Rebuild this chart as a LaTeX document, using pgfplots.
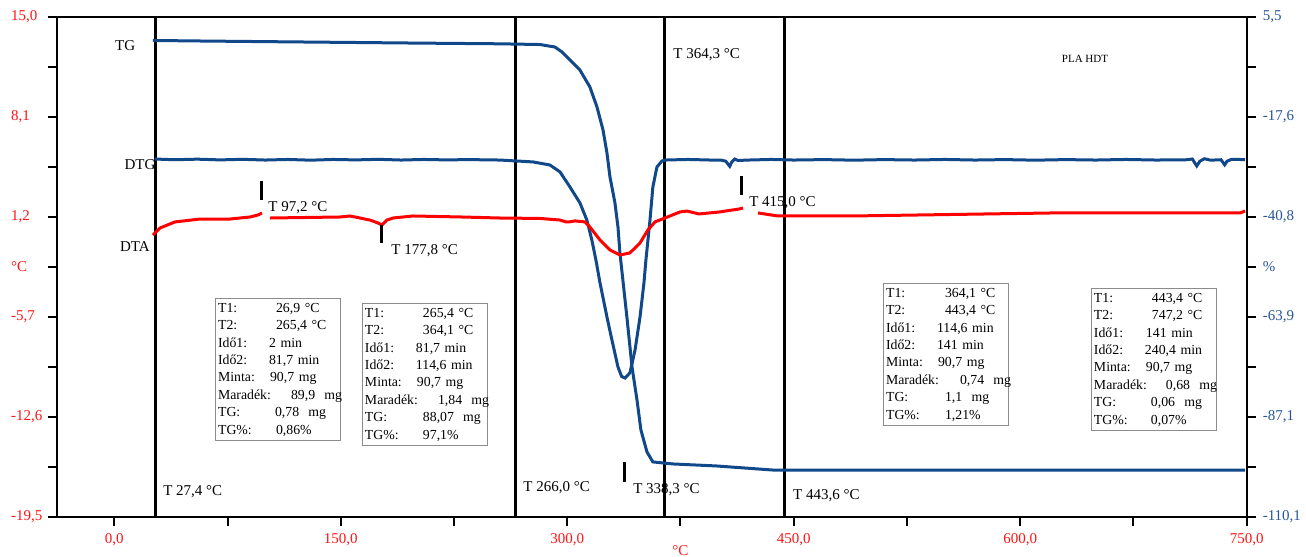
\documentclass[border=0pt]{standalone}
\usepackage{pgfplots}
\pgfplotsset{compat=1.18}
\usepackage{fontspec}
\setmainfont{Liberation Serif}
\definecolor{cblue}{RGB}{16,72,138}
\definecolor{lblue}{RGB}{40,85,150}
\definecolor{tred}{RGB}{255,20,20}
\definecolor{boxgray}{RGB}{140,140,140}
\newcommand{\bl}[3]{\makebox[60bp][l]{\makebox[#2][l]{#1}#3}\\}
\newcommand{\blast}[3]{\makebox[60bp][l]{\makebox[#2][l]{#1}#3}}
\begin{document}
\begin{tikzpicture}
\useasboundingbox (-28.75bp,-20bp) rectangle (624.25bp,258.5bp);
\begin{axis}[
  at={(0,0)}, anchor=south west, scale only axis,
  width=594.6bp, height=250bp,
  xmin=-37.6, xmax=750, ymin=-19.5, ymax=15,
  axis line style={line width=1bp, black},
  tick align=outside, major tick length=4.5bp,
  every tick/.style={black, line width=1bp},
  xtick pos=bottom, ytick pos=left,
  xtick={0,75,150,225,300,375,450,525,600,675,750},
  xticklabels={{0,0},,{150,0},,{300,0},,{450,0},,{600,0},,{750,0}},
  ytick={15,11.55,8.1,4.65,1.2,-2.25,-5.7,-9.15,-12.6,-16.05,-19.5},
  yticklabels={{15,0},,{8,1},,{1,2},{°C},{-5,7},,{-12,6},,{-19,5}},
  ticklabel style={font=\fontsize{7.5bp}{9bp}\selectfont, text=tred},
  yticklabel style={text width=18.5bp, align=left, inner xsep=0pt},
  clip=false,
]
% vertical marker lines
\addplot[black, line width=1.5bp] coordinates {(27.4,-19.5) (27.4,15)};
\addplot[black, line width=1.5bp] coordinates {(266.0,-19.5) (266.0,15)};
\addplot[black, line width=1.5bp] coordinates {(364.3,-19.5) (364.3,15)};
\addplot[black, line width=1.5bp] coordinates {(443.6,-19.5) (443.6,15)};
% TG
\addplot[cblue, line width=1.5bp] coordinates {
(25.6,13.38) (60,13.34) (100,13.30) (150,13.25) (200,13.20) (255.4,13.15) (281.9,13.10)
(291.8,12.93) (296.5,12.59) (303.1,11.90) (308.4,11.34) (315.0,10.17) (319.7,8.79)
(323.7,7.20) (326.3,5.62) (328.3,3.96) (331.6,2.17) (333.6,0.51) (334.9,-1.28)
(339.5,-5.70) (342.9,-9.15) (346.2,-11.43) (348.8,-13.50) (352.8,-15.01) (356.7,-15.70)
(363.4,-15.77) (370,-15.84) (399.1,-15.98) (436.2,-16.26) (748.9,-16.26)};
% DTG
\addplot[cblue, line width=1.5bp] coordinates {
(26.8,5.20) (40,5.15) (55,5.19) (70,5.14) (85,5.18) (100,5.13) (115,5.17) (130,5.12)
(145,5.17) (160,5.14) (175,5.18) (190,5.13) (205,5.17) (220,5.14) (235,5.16) (255.4,5.13)
(277.3,5.00) (288.5,4.79) (295.2,4.31) (301.8,3.27) (308.4,2.17) (313.0,0.99) (316.3,-0.39)
(319.0,-1.77) (321.7,-3.35) (326.3,-5.70) (329.6,-7.29) (333.6,-9.15) (336,-9.80)
(338.2,-9.91) (341.5,-9.56) (344.9,-7.98) (348.2,-5.70) (350.8,-3.35) (352.1,-1.77)
(354.8,0.99) (356.7,3.27) (359.4,4.65) (362.7,5.06) (365,5.13) (380,5.17) (395,5.13)
(402,5.12) (405,5.05) (407.6,4.70) (409,5.00) (411,5.20) (413,5.10) (420,5.13) (435,5.17)
(450,5.13) (470,5.16) (490,5.12) (510,5.16) (530,5.13) (550,5.17) (570,5.13) (590,5.16)
(610,5.12) (630,5.16) (650,5.13) (670,5.17) (690,5.13) (710,5.15) (714,5.20) (716.9,4.72)
(719,5.05) (722,5.22) (726,5.12) (733,5.15) (735.4,4.80) (737,5.05) (740,5.18) (748.9,5.16)};
% DTA
\addplot[red, line width=1.5bp] coordinates {
(25.6,-0.04) (30.3,0.44) (40.2,0.86) (56.8,1.06) (76.6,1.06) (89.9,1.20) (95.2,1.34) (97.8,1.48)};
\addplot[red, line width=1.5bp] coordinates {
(103.1,1.13) (149.5,1.20) (156.1,1.27) (169.3,0.99) (174.6,0.79) (177.3,0.65) (180.6,0.99)
(184.6,1.13) (197.8,1.27) (230,1.20) (255.4,1.13) (281.9,1.10) (295.2,0.99) (299.1,0.86)
(301.1,0.86) (305.1,0.93) (311.7,0.86) (315.0,0.51) (321.7,-0.39) (328.3,-1.08)
(334.9,-1.42) (341.5,-1.28) (348.2,-0.59) (353.4,0.30) (358.1,0.86) (364.7,1.13)
(374.7,1.55) (379.3,1.61) (387.2,1.41) (401.1,1.55) (413.7,1.75) (416.4,1.82)};
\addplot[red, line width=1.5bp] coordinates {
(426.3,1.48) (439.5,1.27) (489.2,1.27) (622.3,1.48) (745.6,1.48) (748.9,1.61)};
% peak ticks
\addplot[black, line width=1.5bp] coordinates {(97.8,3.68) (97.8,2.37)};
\addplot[black, line width=1.5bp] coordinates {(177.3,0.65) (177.3,-0.59)};
\addplot[black, line width=1.5bp] coordinates {(415.7,4.03) (415.7,2.72)};
\addplot[black, line width=1.5bp] coordinates {(338.2,-15.70) (338.2,-17.08)};
% labels
\begin{scope}[every node/.style={font=\fontsize{7.5bp}{9bp}\selectfont, inner sep=0pt}]
\node at (axis cs:7.2,13.0) {TG};
\node at (axis cs:17.0,4.79) {DTG};
\node at (axis cs:13.7,-0.87) {DTA};
\node[anchor=west] at (axis cs:101.8,1.82) {T 97,2 °C};
\node[anchor=west] at (axis cs:183.3,-1.15) {T 177,8 °C};
\node[anchor=west] at (axis cs:32.2,-17.78) {T 27,4 °C};
\node[anchor=west] at (axis cs:270.7,-17.50) {T 266,0 °C};
\node[anchor=west] at (axis cs:343.5,-17.64) {T 338,3 °C};
\node[anchor=west] at (axis cs:449.4,-18.05) {T 443,6 °C};
\node[anchor=west] at (axis cs:370.0,12.38) {T 364,3 °C};
\node[anchor=west] at (axis cs:420.3,2.17) {T 415,0 °C};
\node[font=\fontsize{5.5bp}{6.5bp}\selectfont] at (axis cs:642.9,12.10) {PLA HDT};
\node[anchor=south, text=tred] at ([yshift=-19.6bp]axis cs:375,-19.5) {°C};
\end{scope}
\begin{scope}[every node/.style={draw=boxgray, line width=0.7bp, anchor=north west, inner xsep=1.2bp, inner ysep=2.2bp, text width=60bp, align=left, font=\fontsize{6.9bp}{8.7bp}\selectfont}]
\node at (axis cs:66.7,-4.39) {\bl{T1:}{29bp}{26,9 °C}\bl{T2:}{29bp}{265,4 °C}\bl{Idő1:}{25.5bp}{2 min}\bl{Idő2:}{25.5bp}{81,7 min}\bl{Minta:}{26bp}{90,7 mg}\bl{Maradék:}{36.5bp}{89,9\ \ mg}\bl{TG:}{28.5bp}{0,78\ \ mg}\blast{TG\%:}{29bp}{0,86\%}};
\node at (axis cs:164.0,-4.73) {\bl{T1:}{29bp}{265,4 °C}\bl{T2:}{29bp}{364,1 °C}\bl{Idő1:}{25.5bp}{81,7 min}\bl{Idő2:}{25.5bp}{114,6 min}\bl{Minta:}{26bp}{90,7 mg}\bl{Maradék:}{36.5bp}{1,84\ \ mg}\bl{TG:}{29bp}{88,07\ \ mg}\blast{TG\%:}{29bp}{97,1\%}};
\node at (axis cs:509.1,-3.35) {\bl{T1:}{29.5bp}{364,1 °C}\bl{T2:}{29.5bp}{443,4 °C}\bl{Idő1:}{25.5bp}{114,6 min}\bl{Idő2:}{25.5bp}{141 min}\bl{Minta:}{26bp}{90,7 mg}\bl{Maradék:}{37bp}{0,74\ \ mg}\bl{TG:}{29.5bp}{1,1\ \ mg}\blast{TG\%:}{29.5bp}{1,21\%}};
\node at (axis cs:646.8,-3.70) {\bl{T1:}{29bp}{443,4 °C}\bl{T2:}{29bp}{747,2 °C}\bl{Idő1:}{26bp}{141 min}\bl{Idő2:}{25.5bp}{240,4 min}\bl{Minta:}{26bp}{90,7 mg}\bl{Maradék:}{36bp}{0,68\ \ mg}\bl{TG:}{28.5bp}{0,06\ \ mg}\blast{TG\%:}{28.5bp}{0,07\%}};
\end{scope}
\end{axis}
\begin{axis}[
  at={(0,0)}, anchor=south west, scale only axis,
  width=594.6bp, height=250bp,
  xmin=-37.6, xmax=750, ymin=-19.5, ymax=15,
  axis x line=none, axis y line*=right,
  axis line style={line width=1bp, black, -},
  tick align=outside, major tick length=4.5bp,
  every tick/.style={black, line width=1bp},
  ytick={15,11.55,8.1,4.65,1.2,-2.25,-5.7,-9.15,-12.6,-16.05,-19.5},
  yticklabels={{5,5},,{-17,6},,{-40,8},{\%},{-63,9},,{-87,1},,{-110,1}},
  yticklabel style={font=\fontsize{7.5bp}{9bp}\selectfont, text=lblue},
]
\end{axis}
\end{tikzpicture}
\end{document}
